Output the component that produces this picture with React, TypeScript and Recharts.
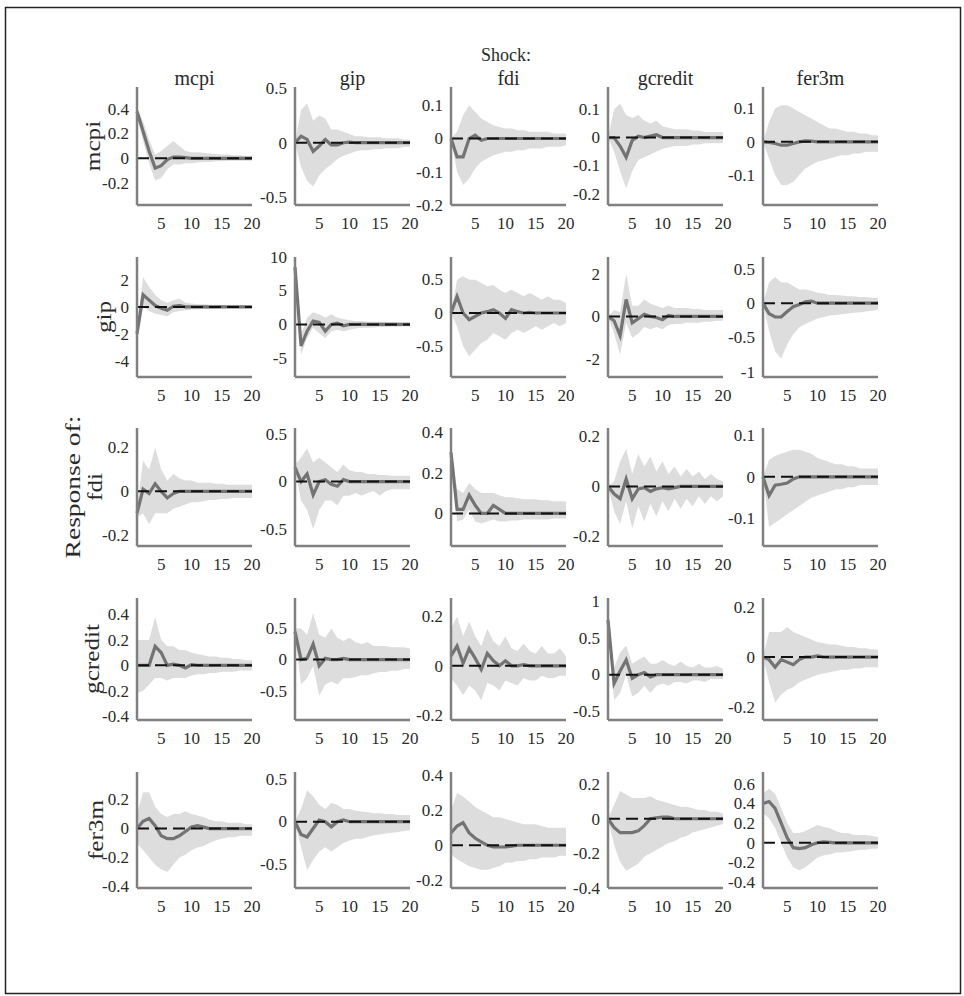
import { ComposedChart, Area, Line, XAxis, YAxis } from "recharts";

// shock (columns) and response (rows) variables
const shocks = ["mcpi", "gip", "fdi", "gcredit", "fer3m"];
const responses = ["mcpi", "gip", "fdi", "gcredit", "fer3m"];
const horizons = [1, 2, 3, 4, 5, 6, 7, 8, 9, 10, 11, 12, 13, 14, 15, 16, 17, 18, 19, 20];
const xTicks = [5, 10, 15, 20];

// response of mcpi
const medMcpi = [
  [0.38, 0.22, 0.06, -0.08, -0.06, -0.01, 0.01, 0.01, 0.005, 0, 0, 0, 0, 0, 0, 0, 0, 0, 0, 0],
  [0, 0.06, 0.03, -0.08, -0.03, 0.03, -0.02, -0.02, 0, 0.005, 0, 0, 0, 0, 0, 0, 0, 0, 0, 0],
  [0, -0.055, -0.055, 0, 0.01, -0.005, 0, 0, 0, 0, 0, 0, 0, 0, 0, 0, 0, 0, 0, 0],
  [0, 0, -0.03, -0.07, -0.01, 0.005, 0, 0.005, 0.01, 0, 0, 0, 0, 0, 0, 0, 0, 0, 0, 0],
  [0, -0.002, -0.005, -0.01, -0.01, -0.005, 0, 0.003, 0.002, 0, 0, 0, 0, 0, 0, 0, 0, 0, 0, 0],
];
const hiMcpi = [
  [0.42, 0.3, 0.15, 0.03, 0.06, 0.1, 0.14, 0.1, 0.06, 0.05, 0.05, 0.045, 0.04, 0.035, 0.03, 0.03, 0.025, 0.025, 0.02, 0.02],
  [0, 0.3, 0.36, 0.2, 0.25, 0.22, 0.12, 0.12, 0.1, 0.08, 0.06, 0.06, 0.05, 0.05, 0.05, 0.04, 0.04, 0.04, 0.03, 0.03],
  [0, 0.02, 0.07, 0.1, 0.08, 0.06, 0.05, 0.04, 0.035, 0.03, 0.03, 0.025, 0.025, 0.02, 0.02, 0.02, 0.02, 0.015, 0.015, 0.015],
  [0, 0.1, 0.12, 0.08, 0.07, 0.08, 0.06, 0.05, 0.06, 0.04, 0.035, 0.03, 0.03, 0.03, 0.025, 0.025, 0.02, 0.02, 0.02, 0.02],
  [0, 0.06, 0.1, 0.11, 0.11, 0.1, 0.09, 0.08, 0.07, 0.06, 0.05, 0.04, 0.04, 0.035, 0.03, 0.03, 0.025, 0.025, 0.02, 0.02],
];
const loMcpi = [
  [0.34, 0.14, -0.04, -0.18, -0.16, -0.09, -0.05, -0.05, -0.04, -0.04, -0.035, -0.03, -0.03, -0.025, -0.025, -0.02, -0.02, -0.02, -0.02, -0.02],
  [0, -0.22, -0.35, -0.4, -0.3, -0.24, -0.2, -0.15, -0.12, -0.1, -0.08, -0.07, -0.07, -0.06, -0.06, -0.05, -0.05, -0.05, -0.04, -0.04],
  [0, -0.1, -0.14, -0.12, -0.09, -0.07, -0.06, -0.05, -0.045, -0.04, -0.04, -0.035, -0.035, -0.03, -0.03, -0.03, -0.025, -0.025, -0.025, -0.02],
  [0, -0.05, -0.12, -0.18, -0.12, -0.08, -0.07, -0.06, -0.05, -0.04, -0.035, -0.03, -0.03, -0.03, -0.025, -0.025, -0.02, -0.02, -0.02, -0.02],
  [0, -0.05, -0.1, -0.13, -0.13, -0.12, -0.1, -0.08, -0.07, -0.06, -0.055, -0.05, -0.045, -0.04, -0.04, -0.035, -0.035, -0.03, -0.03, -0.03],
];

// response of gip
const medGip = [
  [-2.0, 0.9, 0.5, 0.1, -0.1, -0.25, 0.05, 0.1, 0, 0, 0, 0, 0, 0, 0, 0, 0, 0, 0, 0],
  [8.5, -3.2, -1.0, 0.5, 0.3, -1.0, 0, 0.2, -0.2, 0, 0, 0, 0, 0, 0, 0, 0, 0, 0, 0],
  [0, 0.25, 0, -0.1, -0.05, 0, 0.02, 0.05, 0, -0.08, 0.05, 0.02, 0, 0.01, 0, 0, 0, 0, 0, 0],
  [0, -0.2, -0.9, 0.8, -0.3, -0.1, 0.1, 0, -0.05, -0.15, 0.05, 0, 0, 0, 0, 0, 0, 0, 0, 0],
  [0, -0.15, -0.2, -0.2, -0.12, -0.05, -0.02, 0.02, 0.03, 0, 0, 0, 0, 0, 0, 0, 0, 0, 0, 0],
];
const hiGip = [
  [-1.6, 2.2, 1.5, 0.9, 0.5, 0.3, 0.5, 0.6, 0.3, 0.25, 0.2, 0.2, 0.15, 0.15, 0.15, 0.1, 0.1, 0.1, 0.1, 0.1],
  [9.5, -1.5, 1.0, 1.8, 1.5, 1.0, 1.5, 1.0, 0.8, 0.6, 0.5, 0.5, 0.4, 0.4, 0.4, 0.35, 0.35, 0.3, 0.3, 0.3],
  [0, 0.5, 0.55, 0.5, 0.5, 0.45, 0.4, 0.42, 0.35, 0.3, 0.35, 0.3, 0.25, 0.3, 0.25, 0.2, 0.25, 0.2, 0.2, 0.15],
  [0, 0.3, 0.2, 2.0, 0.5, 0.5, 0.8, 0.6, 0.5, 0.4, 0.5, 0.4, 0.4, 0.4, 0.35, 0.35, 0.3, 0.3, 0.3, 0.3],
  [0, 0.3, 0.38, 0.3, 0.3, 0.25, 0.2, 0.2, 0.18, 0.15, 0.14, 0.12, 0.12, 0.11, 0.1, 0.1, 0.09, 0.09, 0.08, 0.08],
];
const loGip = [
  [-2.6, 0, -0.3, -0.5, -0.6, -0.7, -0.4, -0.3, -0.25, -0.2, -0.2, -0.15, -0.15, -0.15, -0.1, -0.1, -0.1, -0.1, -0.1, -0.1],
  [7.5, -4.5, -2.0, -0.5, -1.3, -2.0, -1.0, -0.8, -1.0, -0.8, -0.6, -0.5, -0.5, -0.45, -0.4, -0.4, -0.35, -0.35, -0.3, -0.3],
  [0, -0.2, -0.5, -0.65, -0.55, -0.45, -0.4, -0.3, -0.35, -0.4, -0.3, -0.25, -0.3, -0.25, -0.2, -0.25, -0.2, -0.15, -0.2, -0.15],
  [0, -0.8, -1.8, -0.3, -1.0, -0.8, -0.5, -0.6, -0.5, -0.6, -0.4, -0.35, -0.35, -0.3, -0.3, -0.3, -0.25, -0.25, -0.2, -0.2],
  [0, -0.4, -0.7, -0.8, -0.6, -0.45, -0.35, -0.3, -0.26, -0.22, -0.2, -0.18, -0.17, -0.16, -0.15, -0.14, -0.13, -0.12, -0.11, -0.1],
];

// response of fdi
const medFdi = [
  [-0.1, 0.01, -0.01, 0.035, 0, -0.03, -0.01, 0, 0, 0, 0, 0, 0, 0, 0, 0, 0, 0, 0, 0],
  [0.15, 0, 0.08, -0.14, 0, 0.02, -0.03, -0.05, 0.02, 0, 0, 0, 0, 0, 0, 0, 0, 0, 0, 0],
  [0.3, 0.02, 0.02, 0.09, 0.04, 0, 0, 0.04, 0.02, 0, 0, 0, 0, 0, 0, 0, 0, 0, 0, 0],
  [0, -0.03, -0.05, 0.03, -0.05, -0.01, -0.005, -0.02, -0.01, -0.005, -0.01, -0.005, 0, 0, 0, 0, 0, 0, 0, 0],
  [0, -0.045, -0.02, -0.018, -0.015, -0.005, 0, 0, 0, 0, 0, 0, 0, 0, 0, 0, 0, 0, 0, 0],
];
const hiFdi = [
  [-0.08, 0.14, 0.1, 0.2, 0.1, 0.05, 0.08, 0.06, 0.05, 0.05, 0.04, 0.04, 0.04, 0.035, 0.035, 0.03, 0.03, 0.03, 0.03, 0.03],
  [0.18, 0.25, 0.35, 0.2, 0.25, 0.2, 0.15, 0.1, 0.18, 0.12, 0.1, 0.1, 0.08, 0.08, 0.07, 0.07, 0.06, 0.06, 0.06, 0.06],
  [0.32, 0.12, 0.1, 0.15, 0.12, 0.1, 0.1, 0.1, 0.09, 0.08, 0.08, 0.075, 0.07, 0.07, 0.07, 0.065, 0.065, 0.06, 0.06, 0.06],
  [0, 0.02, 0.1, 0.15, 0.05, 0.13, 0.08, 0.12, 0.06, 0.1, 0.05, 0.08, 0.04, 0.07, 0.04, 0.06, 0.03, 0.05, 0.03, 0.02],
  [0, 0.04, 0.05, 0.055, 0.06, 0.065, 0.065, 0.06, 0.055, 0.045, 0.04, 0.035, 0.03, 0.03, 0.025, 0.025, 0.02, 0.02, 0.02, 0.02],
];
const loFdi = [
  [-0.12, -0.1, -0.15, -0.1, -0.1, -0.1, -0.08, -0.07, -0.06, -0.05, -0.05, -0.045, -0.04, -0.04, -0.035, -0.035, -0.03, -0.03, -0.03, -0.03],
  [0.12, -0.2, -0.3, -0.5, -0.3, -0.2, -0.2, -0.25, -0.15, -0.15, -0.12, -0.15, -0.12, -0.1, -0.15, -0.1, -0.08, -0.08, -0.08, -0.08],
  [0.28, -0.04, -0.03, 0.02, -0.04, -0.05, -0.04, -0.03, -0.04, -0.04, -0.035, -0.035, -0.03, -0.03, -0.03, -0.03, -0.03, -0.025, -0.025, -0.025],
  [0, -0.1, -0.15, -0.06, -0.17, -0.08, -0.14, -0.07, -0.12, -0.06, -0.1, -0.05, -0.09, -0.05, -0.08, -0.04, -0.07, -0.04, -0.06, -0.04],
  [0, -0.12, -0.11, -0.1, -0.09, -0.08, -0.07, -0.06, -0.05, -0.045, -0.04, -0.035, -0.03, -0.03, -0.025, -0.025, -0.02, -0.02, -0.02, -0.02],
];

// response of gcredit
const medGcredit = [
  [0, 0, 0, 0.15, 0.1, 0, 0.01, 0, -0.02, 0.005, 0, 0, 0, 0, 0, 0, 0, 0, 0, 0],
  [0.45, 0, 0.02, 0.25, -0.1, 0.02, 0, 0, 0.02, 0, 0, 0, 0, 0, 0, 0, 0, 0, 0, 0],
  [0.04, 0.08, 0.01, 0.07, 0.03, -0.015, 0.05, 0.02, 0, 0.02, 0, 0, 0.005, 0, 0, 0, 0, 0, 0, 0],
  [0.75, -0.12, 0.05, 0.2, -0.05, 0, 0.03, -0.03, 0, 0, 0, 0, 0, 0, 0, 0, 0, 0, 0, 0],
  [0, -0.01, -0.04, -0.01, -0.02, -0.03, -0.01, 0, 0, 0.005, 0, 0, 0, 0, 0, 0, 0, 0, 0, 0],
];
const hiGcredit = [
  [0.2, 0.2, 0.2, 0.38, 0.2, 0.15, 0.15, 0.12, 0.12, 0.1, 0.09, 0.08, 0.07, 0.07, 0.06, 0.06, 0.05, 0.05, 0.04, 0.04],
  [0.5, 0.5, 0.4, 0.75, 0.4, 0.35, 0.5, 0.35, 0.3, 0.35, 0.28, 0.25, 0.28, 0.22, 0.22, 0.22, 0.2, 0.2, 0.2, 0.18],
  [0.15, 0.2, 0.12, 0.18, 0.12, 0.08, 0.15, 0.1, 0.08, 0.12, 0.07, 0.06, 0.09, 0.06, 0.05, 0.08, 0.05, 0.05, 0.07, 0.04],
  [0.8, 0.1, 0.3, 0.4, 0.15, 0.2, 0.25, 0.15, 0.15, 0.2, 0.15, 0.12, 0.18, 0.12, 0.1, 0.15, 0.1, 0.1, 0.12, 0.08],
  [0, 0.1, 0.1, 0.1, 0.12, 0.1, 0.09, 0.08, 0.07, 0.06, 0.055, 0.05, 0.05, 0.045, 0.04, 0.04, 0.035, 0.035, 0.03, 0.03],
];
const loGcredit = [
  [-0.22, -0.2, -0.15, -0.1, -0.1, -0.12, -0.1, -0.1, -0.1, -0.08, -0.07, -0.07, -0.06, -0.06, -0.05, -0.05, -0.05, -0.04, -0.04, -0.04],
  [0.38, -0.4, -0.3, -0.1, -0.58, -0.4, -0.35, -0.4, -0.3, -0.3, -0.28, -0.25, -0.25, -0.22, -0.2, -0.2, -0.18, -0.18, -0.15, -0.15],
  [-0.05, -0.08, -0.12, -0.08, -0.1, -0.14, -0.07, -0.08, -0.1, -0.06, -0.07, -0.08, -0.05, -0.06, -0.06, -0.04, -0.05, -0.05, -0.04, -0.04],
  [0.7, -0.35, -0.25, 0, -0.3, -0.25, -0.15, -0.25, -0.15, -0.12, -0.15, -0.1, -0.1, -0.12, -0.08, -0.08, -0.1, -0.06, -0.06, -0.06],
  [0, -0.1, -0.18, -0.15, -0.13, -0.12, -0.1, -0.09, -0.08, -0.07, -0.065, -0.06, -0.055, -0.05, -0.05, -0.045, -0.045, -0.04, -0.04, -0.04],
];

// response of fer3m
const medFer3m = [
  [0, 0.05, 0.07, 0.02, -0.05, -0.07, -0.07, -0.05, -0.02, 0.01, 0.02, 0.01, 0, 0, 0, 0, 0, 0, 0, 0],
  [0, -0.15, -0.18, -0.08, 0.02, 0, -0.06, 0, 0.02, 0, 0, 0, 0, 0, 0, 0, 0, 0, 0, 0],
  [0.07, 0.11, 0.13, 0.07, 0.04, 0.02, 0, -0.01, -0.01, -0.01, -0.005, 0, 0, 0, 0, 0, 0, 0, 0, 0],
  [0, -0.05, -0.08, -0.08, -0.08, -0.07, -0.04, 0, 0.005, 0.01, 0.01, 0, 0, 0, 0, 0, 0, 0, 0, 0],
  [0.4, 0.42, 0.35, 0.2, 0.05, -0.05, -0.06, -0.05, -0.02, 0, 0.01, 0.005, 0, 0, 0, 0, 0, 0, 0, 0],
];
const hiFer3m = [
  [0.1, 0.25, 0.25, 0.15, 0.1, 0.08, 0.1, 0.1, 0.12, 0.1, 0.09, 0.08, 0.06, 0.05, 0.05, 0.04, 0.04, 0.04, 0.03, 0.03],
  [0, 0.15, 0.37, 0.3, 0.2, 0.15, 0.22, 0.2, 0.15, 0.15, 0.13, 0.12, 0.11, 0.1, 0.1, 0.09, 0.09, 0.08, 0.08, 0.08],
  [0.2, 0.3, 0.28, 0.25, 0.22, 0.2, 0.18, 0.16, 0.16, 0.15, 0.14, 0.13, 0.12, 0.12, 0.12, 0.11, 0.1, 0.1, 0.1, 0.1],
  [0, 0.08, 0.16, 0.14, 0.12, 0.12, 0.12, 0.13, 0.11, 0.1, 0.09, 0.08, 0.07, 0.07, 0.06, 0.05, 0.05, 0.04, 0.04, 0.03],
  [0.5, 0.55, 0.5, 0.35, 0.2, 0.1, 0.1, 0.12, 0.15, 0.18, 0.16, 0.15, 0.12, 0.1, 0.1, 0.08, 0.08, 0.08, 0.07, 0.06],
];
const loFer3m = [
  [-0.1, -0.15, -0.2, -0.25, -0.28, -0.3, -0.25, -0.2, -0.18, -0.15, -0.13, -0.12, -0.1, -0.08, -0.07, -0.06, -0.06, -0.05, -0.05, -0.05],
  [0, -0.3, -0.57, -0.45, -0.35, -0.3, -0.35, -0.3, -0.25, -0.22, -0.2, -0.2, -0.18, -0.16, -0.15, -0.14, -0.13, -0.12, -0.11, -0.1],
  [-0.05, -0.08, -0.1, -0.12, -0.13, -0.14, -0.14, -0.13, -0.12, -0.1, -0.1, -0.09, -0.09, -0.08, -0.08, -0.07, -0.07, -0.07, -0.06, -0.06],
  [0, -0.15, -0.25, -0.3, -0.28, -0.26, -0.22, -0.2, -0.18, -0.16, -0.14, -0.13, -0.11, -0.1, -0.08, -0.07, -0.06, -0.05, -0.04, -0.03],
  [0.3, 0.25, 0.15, 0, -0.15, -0.25, -0.28, -0.25, -0.2, -0.15, -0.13, -0.12, -0.1, -0.1, -0.09, -0.08, -0.07, -0.07, -0.06, -0.06],
];

// y-axis limits and tick labels, one row per response variable
const yDomains = [
  [[-0.38, 0.58], [-0.57, 0.51], [-0.2, 0.155], [-0.24, 0.18], [-0.19, 0.165]],
  [[-5.2, 3.7], [-7.8, 10], [-0.96, 0.84], [-2.85, 2.8], [-1.07, 0.67]],
  [[-0.25, 0.29], [-0.68, 0.565], [-0.16, 0.42], [-0.24, 0.235], [-0.166, 0.117]],
  [[-0.43, 0.53], [-0.97, 0.99], [-0.22, 0.275], [-0.62, 1.05], [-0.25, 0.235]],
  [[-0.41, 0.39], [-0.78, 0.585], [-0.245, 0.42], [-0.4, 0.27], [-0.46, 0.72]],
];
const yTicks = [
  [[-0.2, 0, 0.2, 0.4], [-0.5, 0, 0.5], [-0.2, -0.1, 0, 0.1], [-0.2, -0.1, 0, 0.1], [-0.1, 0, 0.1]],
  [[-4, -2, 0, 2], [-5, 0, 5, 10], [-0.5, 0, 0.5], [-2, 0, 2], [-1, -0.5, 0, 0.5]],
  [[-0.2, 0, 0.2], [-0.5, 0, 0.5], [0, 0.2, 0.4], [-0.2, 0, 0.2], [-0.1, 0, 0.1]],
  [[-0.4, -0.2, 0, 0.2, 0.4], [-0.5, 0, 0.5], [-0.2, 0, 0.2], [-0.5, 0, 0.5, 1], [-0.2, 0, 0.2]],
  [[-0.4, -0.2, 0, 0.2], [-0.5, 0, 0.5], [-0.2, 0, 0.2, 0.4], [-0.4, -0.2, 0, 0.2], [-0.4, -0.2, 0, 0.2, 0.4, 0.6]],
];

const medRows = [medMcpi, medGip, medFdi, medGcredit, medFer3m];
const hiRows = [hiMcpi, hiGip, hiFdi, hiGcredit, hiFer3m];
const loRows = [loMcpi, loGip, loFdi, loGcredit, loFer3m];

// layout
const colX = [137, 295, 451, 608, 763];
const rowY = [87, 257, 428, 598, 772];
const rowH = [118, 120, 118, 122, 116];
const PLOT_W = 115;
const Y_W = 45;
const TOP = 10;
const X_H = 34;
const labelX = [100, 111, 102, 99, 103];

const FONT = "Liberation Serif";
const AXIS = "#808080";
const TEXT = "#2a2a2a";

function YTick(props: any) {
  const { x, y, payload } = props;
  return (
    <text x={x} y={y} dy="0.34em" textAnchor="end" fontFamily={FONT} fontSize={17} fill={TEXT}>
      {String(payload.value)}
    </text>
  );
}

function XTick(props: any) {
  const { x, y, payload } = props;
  return (
    <text x={x} y={y} dy="0.72em" textAnchor="middle" fontFamily={FONT} fontSize={17} fill={TEXT}>
      {String(payload.value)}
    </text>
  );
}

function Panel({ r, c }: { r: number; c: number }) {
  const med = medRows[r][c];
  const hi = hiRows[r][c];
  const lo = loRows[r][c];
  const data = horizons.map((h, i) => ({ h, band: [lo[i], hi[i]], med: med[i], zero: 0 }));
  return (
    <div style={{ position: "absolute", left: colX[c] - Y_W, top: rowY[r] - TOP }}>
      <ComposedChart
        width={Y_W + PLOT_W + 10}
        height={TOP + rowH[r] + X_H}
        data={data}
        margin={{ top: TOP, right: 10, bottom: 0, left: 0 }}
      >
        <XAxis
          dataKey="h"
          type="number"
          domain={[1, 20]}
          ticks={xTicks}
          tickLine={false}
          tickMargin={6}
          interval={0}
          height={X_H}
          axisLine={{ stroke: AXIS, strokeWidth: 2.5 }}
          tick={<XTick />}
        />
        <YAxis
          type="number"
          domain={yDomains[r][c]}
          ticks={yTicks[r][c]}
          allowDataOverflow
          interval={0}
          tickLine={false}
          width={Y_W}
          axisLine={{ stroke: AXIS, strokeWidth: 2.5 }}
          tick={<YTick />}
        />
        <Area
          type="linear"
          dataKey="band"
          stroke="none"
          fill="#dddddd"
          fillOpacity={1}
          isAnimationActive={false}
          activeDot={false}
        />
        <Line
          type="linear"
          dataKey="med"
          stroke="#737373"
          strokeWidth={3.2}
          dot={false}
          activeDot={false}
          isAnimationActive={false}
        />
        <Line
          type="linear"
          dataKey="zero"
          stroke="#111111"
          strokeWidth={2}
          strokeDasharray="12 6"
          dot={false}
          activeDot={false}
          isAnimationActive={false}
        />
      </ComposedChart>
    </div>
  );
}

export default function App() {
  return (
    <div style={{ position: "absolute", left: 0, top: 0, width: 964, height: 996, background: "#fff" }}>
      <svg width={964} height={996} style={{ position: "absolute", left: 0, top: 0 }}>
        <rect x={5.5} y={7.5} width={955} height={986} fill="none" stroke="#222" strokeWidth={1.5} />
        <text x={506} y={61} textAnchor="middle" fontFamily={FONT} fontSize={18} fill={TEXT}>
          Shock:
        </text>
        {shocks.map((s, c) => (
          <text key={s} x={colX[c] + PLOT_W / 2} y={85} textAnchor="middle" fontFamily={FONT} fontSize={20} fill={TEXT}>
            {s}
          </text>
        ))}
        {responses.map((s, r) => (
          <text
            key={s}
            transform={`translate(${labelX[r]},${rowY[r] + rowH[r] / 2}) rotate(-90) scale(1.2,1)`}
            textAnchor="middle"
            fontFamily={FONT}
            fontSize={21}
            fill={TEXT}
          >
            {s}
          </text>
        ))}
        <text
          transform={`translate(80,${rowY[2] + rowH[2] / 2}) rotate(-90) scale(1.25,1)`}
          textAnchor="middle"
          fontFamily={FONT}
          fontSize={22}
          fill={TEXT}
        >
          Response of:
        </text>
      </svg>
      {responses.map((_, r) => shocks.map((__, c) => <Panel key={`${r}-${c}`} r={r} c={c} />))}
    </div>
  );
}
